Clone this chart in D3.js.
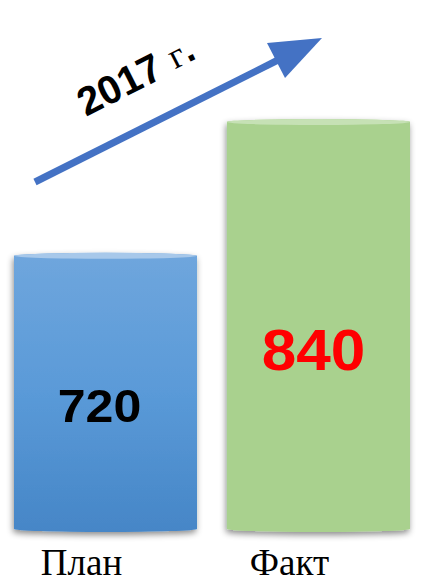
<!DOCTYPE html>
<meta charset="utf-8">
<style>
body { margin: 0; background: #fff; }
.value { font-family: "Liberation Sans", Arial, sans-serif; font-weight: bold; text-anchor: middle; }
.cat { font-family: "Liberation Serif", "Times New Roman", serif; font-size: 37px; text-anchor: middle; }
</style>
<svg width="423" height="584"></svg>
<script src="https://d3js.org/d3.v7.min.js"></script>
<script>

var categories = ["План", "Факт"];
var values = [720, 840];
var year = "2017";

var svg = d3.select("svg");

var x = d3.scaleBand()
    .domain(categories)
    .range([14, 410])
    .paddingInner(0.1408);

var y = d3.scaleLinear()
    .domain([475, 840])
    .range([529, 122]);

var defs = svg.append("defs");

var blue = defs.append("linearGradient")
    .attr("id", "blue")
    .attr("x1", 0).attr("y1", 0).attr("x2", 0).attr("y2", 1);
blue.append("stop").attr("offset", "0%").attr("stop-color", "#6fa6dd");
blue.append("stop").attr("offset", "50%").attr("stop-color", "#5a9ad8");
blue.append("stop").attr("offset", "100%").attr("stop-color", "#4686c7");

var shadow = defs.append("filter")
    .attr("id", "shadow")
    .attr("x", "-10%").attr("y", "-10%").attr("width", "120%").attr("height", "120%");
shadow.append("feDropShadow")
    .attr("dx", -1).attr("dy", 3)
    .attr("stdDeviation", 3)
    .attr("flood-color", "#000")
    .attr("flood-opacity", 0.45);

var fills = ["url(#blue)", "#a9d18e"];
var caps = ["#a7c8ea", "#c6e1b5"];
var labelColors = ["#000", "#ff0000"];
var labelSizes = [46, 57];
var labelShift = [-6, -5];

var ry = 3;

var bar = svg.append("g")
  .selectAll("g")
  .data(values)
  .enter().append("g");

bar.append("path")
    .attr("filter", "url(#shadow)")
    .attr("fill", function(d, i) { return fills[i]; })
    .attr("d", function(d, i) {
      var x0 = x(categories[i]), x1 = x0 + x.bandwidth(), rx = x.bandwidth() / 2;
      var top = y(d), bottom = y.range()[0];
      return "M" + x0 + "," + top + "L" + x0 + "," + bottom +
        "A" + rx + "," + ry + " 0 0 0 " + x1 + "," + bottom +
        "L" + x1 + "," + top +
        "A" + rx + "," + ry + " 0 0 0 " + x0 + "," + top + "Z";
    });

bar.append("ellipse")
    .attr("cx", function(d, i) { return x(categories[i]) + x.bandwidth() / 2; })
    .attr("cy", function(d) { return y(d); })
    .attr("rx", x.bandwidth() / 2)
    .attr("ry", ry)
    .attr("fill", function(d, i) { return caps[i]; });

bar.append("text")
    .attr("class", "value")
    .attr("x", function(d, i) { return x(categories[i]) + x.bandwidth() / 2 + labelShift[i]; })
    .attr("y", function(d) { var b = y.range()[0]; return b - (b - y(d)) * 0.39; })
    .attr("transform", function(d, i) {
      var cx = x(categories[i]) + x.bandwidth() / 2 + labelShift[i];
      return "translate(" + cx + ",0) scale(1.09,1) translate(" + (-cx) + ",0)";
    })
    .style("font-size", function(d, i) { return labelSizes[i] + "px"; })
    .style("fill", function(d, i) { return labelColors[i]; })
    .text(function(d) { return d; });

svg.append("g")
  .selectAll("text")
  .data(categories)
  .enter().append("text")
    .attr("class", "cat")
    .attr("x", function(d, i) { return x(d) + x.bandwidth() / 2 - (i ? 29 : 24); })
    .attr("y", 575)
    .text(function(d) { return d; });

// arrow
var arrowColor = "#4472c4";
svg.append("line")
    .attr("x1", 35).attr("y1", 182)
    .attr("x2", 280).attr("y2", 59)
    .attr("stroke", arrowColor)
    .attr("stroke-width", 7);

svg.append("path")
    .attr("d", "M322,38L267,43L285,78Z")
    .attr("fill", arrowColor);

var title = svg.append("text")
    .attr("transform", "translate(86,117) rotate(-27)");
title.append("tspan")
    .style("font-family", "Liberation Sans, Arial, sans-serif")
    .style("font-weight", "bold")
    .style("font-size", "40px")
    .text(year);
title.append("tspan")
    .attr("dx", 12)
    .attr("dy", -2)
    .style("font-family", "Liberation Serif, Times New Roman, serif")
    .style("font-size", "36px")
    .text("г");
title.append("tspan")
    .style("font-family", "Liberation Sans, Arial, sans-serif")
    .style("font-weight", "bold")
    .style("font-size", "38px")
    .text(".");

</script>
